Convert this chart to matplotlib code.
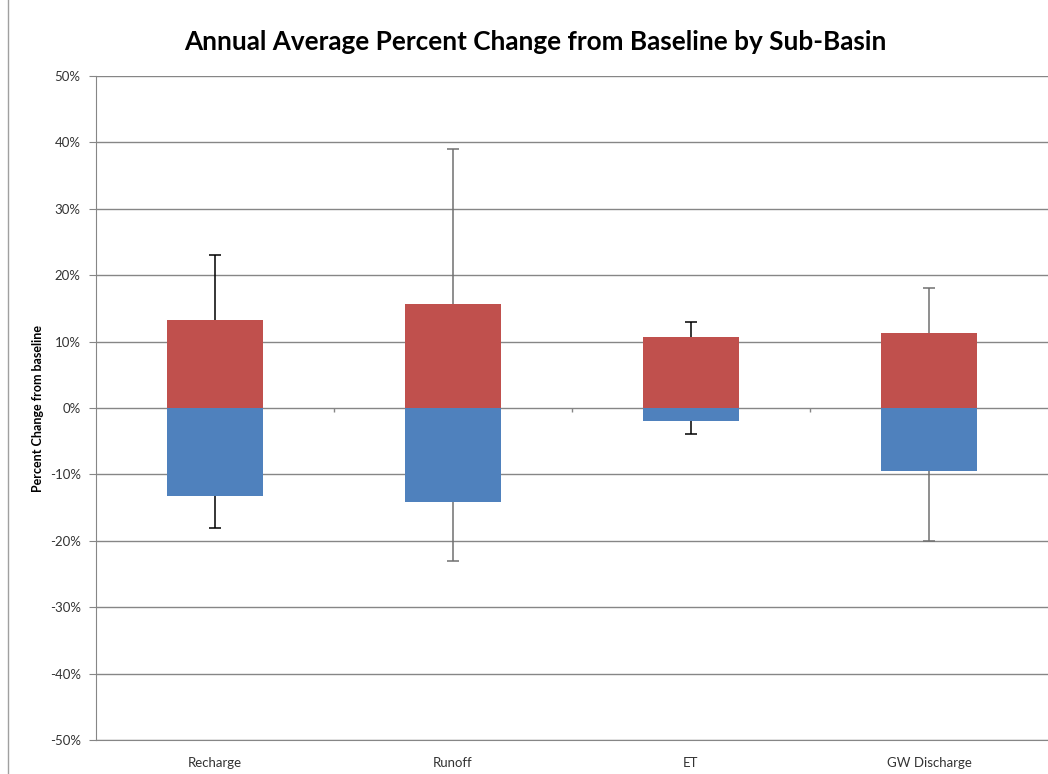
import numpy as np
import matplotlib.pyplot as plt
from matplotlib.ticker import PercentFormatter

categories = ['Recharge', 'Runoff', 'ET', 'GW Discharge']
increase = [13.2, 15.6, 10.7, 11.3]      # red (upper) bars, %
decrease = [-13.3, -14.1, -2.0, -9.5]    # blue (lower) bars, %
max_change = [23.0, 39.0, 13.0, 18.0]    # top whisker, %
min_change = [-18.0, -23.0, -3.9, -20.0] # bottom whisker, %
whisker_colors = ['#000000', '#707070', '#000000', '#707070']

plt.rcParams['font.family'] = ['Lato', 'DejaVu Sans']
plt.rcParams['axes.unicode_minus'] = False

fig = plt.figure(figsize=(10.48, 7.74), dpi=100)
ax = fig.add_axes([96 / 1048, 34 / 774, 952 / 1048, 664 / 774])

x = np.arange(len(categories))
width = 0.40
ax.bar(x, increase, width, color='#C0504D', zorder=3)
ax.bar(x, decrease, width, color='#4F81BD', zorder=3)

# whiskers
ax.vlines(x, increase, max_change, colors=whisker_colors, lw=1.1, zorder=2)
ax.vlines(x, min_change, decrease, colors=whisker_colors, lw=1.1, zorder=2)
ax.hlines(max_change, x - 0.025, x + 0.025, colors=whisker_colors, lw=1.1, zorder=2)
ax.hlines(min_change, x - 0.025, x + 0.025, colors=whisker_colors, lw=1.1, zorder=2)

ax.set_xlim(-0.5, len(categories) - 0.5)
ax.set_ylim(-50, 50)
ax.set_yticks(np.arange(-50, 51, 10))
ax.yaxis.set_major_formatter(PercentFormatter(decimals=0))
ax.grid(axis='y', color='#868686', lw=1, zorder=0)
ax.tick_params(axis='y', length=5, color='#868686', labelsize=9.5, labelcolor='#333333', pad=6)

# category labels at bottom, tick marks on zero line
ax.set_xticks(x)
ax.set_xticklabels(categories)
ax.tick_params(axis='x', length=0, labelsize=9.5, labelcolor='#333333', pad=12)
ax.vlines(x[:-1] + 0.5, -0.6, 0, colors='#868686', lw=1, zorder=1)

for s in ['top', 'right']:
    ax.spines[s].set_visible(False)
for s in ['left', 'bottom']:
    ax.spines[s].set_color('#868686')

ax.set_ylabel('Percent Change from baseline', fontsize=9, fontweight='bold', labelpad=4)
fig.suptitle('Annual Average Percent Change from Baseline by Sub-Basin',
             fontsize=18.8, fontweight='bold', x=535 / 1048, y=1 - 42 / 774, va='center')

# chart area border on the left
fig.add_artist(plt.Line2D([8 / 1048, 8 / 1048], [0, 1], color='#a0a0a0', lw=1))

fig.savefig('out.png', dpi=100)
